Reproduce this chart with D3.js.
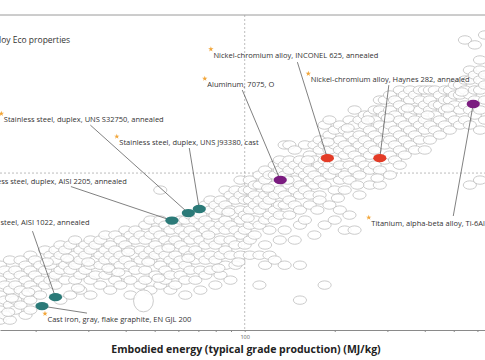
<!DOCTYPE html>
<html><head><meta charset="utf-8">
<script src="https://cdn.jsdelivr.net/npm/d3@7"></script>
<style>
html,body{margin:0;padding:0;background:#fff;overflow:hidden;}
svg{display:block;font-family:"Open Sans",sans-serif;}
</style></head><body>
<svg id="chart" width="485" height="360"></svg>
<script>
const chartTitle = "Alloy Eco properties";
const xAxisTitle = "Embodied energy (typical grade production) (MJ/kg)";
const xTickValues = [20,30,40,50,60,70,80,90,100,200,300,400,500,600];
const xTickLabels = ["100"];
const gridEnergy = [100];
const gridCO2 = [10];

// [embodied energy MJ/kg, CO2 footprint kg/kg]
const otherAlloys = [
[15.2,1.20],[15.2,0.851],[15.2,0.603],[15.2,0.427],[15.2,0.339],
[15.8,1.07],[15.8,0.759],[15.8,0.537],[15.8,0.380],
[16.4,1.35],[16.4,0.955],[16.4,0.676],[16.4,0.479],[16.4,0.339],
[17.1,1.07],[17.1,0.759],[17.1,0.537],[17.1,0.427],
[17.8,1.35],[17.8,0.955],[17.8,0.676],[17.8,0.479],
[18.5,1.20],[18.5,0.851],[18.5,0.603],[18.5,0.380],
[19.2,1.51],[19.2,1.07],[19.2,0.759],[19.2,0.537],[19.2,0.427],
[19.9,1.35],[19.9,0.955],[19.9,0.676],
[20.7,1.20],[20.7,0.851],[20.7,0.603],
[21.5,1.70],[21.5,1.07],[21.5,0.759],
[22.4,1.51],[22.4,1.20],[22.4,0.851],
[23.3,1.70],[23.3,1.35],[23.3,0.955],[23.3,0.759],
[24.2,1.91],[24.2,1.51],[24.2,1.07],[24.2,0.537],
[25.1,1.70],[25.1,1.20],[25.1,0.851],
[26.1,1.91],[26.1,1.35],[26.1,1.07],[26.1,0.603],
[27.1,2.14],[27.1,1.51],[27.1,1.20],[27.1,0.851],
[28.2,1.70],[28.2,1.35],[28.2,0.955],[28.2,0.676],
[29.3,1.91],[29.3,1.51],[29.3,1.07],
[30.5,2.14],[30.5,1.70],[30.5,1.20],[30.5,0.851],[30.5,0.603],
[31.7,1.91],[31.7,1.35],[31.7,0.955],
[32.9,2.14],[32.9,1.51],[32.9,1.20],[32.9,0.759],
[34.2,2.40],[34.2,1.70],[34.2,1.35],[34.2,0.955],
[35.5,1.91],[35.5,1.51],[35.5,1.07],[35.5,0.676],
[36.9,2.40],[36.9,1.70],[36.9,1.35],[36.9,0.851],
[38.4,2.14],[38.4,1.51],[38.4,1.20],[38.4,0.759],
[39.9,2.69],[39.9,1.91],[39.9,1.35],[39.9,0.955],
[41.5,2.40],[41.5,1.70],[41.5,1.20],[41.5,0.851],[41.5,0.603],
[43.1,2.69],[43.1,2.14],[43.1,1.51],[43.1,1.07],
[44.8,2.40],[44.8,1.70],[44.8,1.35],[44.8,0.759],
[46.5,3.02],[46.5,2.14],[46.5,1.51],[46.5,1.07],[46.5,0.851],
[48.4,3.39],[48.4,2.40],[48.4,1.70],[48.4,1.35],[48.4,0.676],
[50.3,2.69],[50.3,1.91],[50.3,1.51],[50.3,0.955],
[52.2,6.76],[52.2,3.39],[52.2,2.40],[52.2,1.70],[52.2,1.20],[52.2,0.759],
[54.3,3.02],[54.3,2.14],[54.3,1.51],[54.3,1.07],[54.3,0.851],
[56.4,2.69],[56.4,1.91],[56.4,1.35],[56.4,0.955],[56.4,0.676],
[58.6,3.02],[58.6,2.14],[58.6,1.51],[58.6,1.20],[58.6,0.759],
[61.0,3.39],[61.0,2.69],[61.0,1.91],[61.0,1.35],[61.0,0.955],
[63.3,3.39],[63.3,2.40],[63.3,1.70],[63.3,1.20],[63.3,0.851],[63.3,0.603],
[65.8,3.80],[65.8,2.69],[65.8,2.14],[65.8,1.51],[65.8,1.07],
[68.4,3.39],[68.4,2.40],[68.4,1.70],[68.4,1.35],[68.4,0.851],
[71.1,3.80],[71.1,3.02],[71.1,2.14],[71.1,1.51],[71.1,1.07],[71.1,0.676],
[73.9,4.79],[73.9,3.39],[73.9,2.69],[73.9,1.91],[73.9,1.35],[73.9,0.955],
[76.8,5.37],[76.8,4.27],[76.8,3.02],[76.8,2.14],[76.8,1.51],[76.8,1.07],
[79.8,4.79],[79.8,3.80],[79.8,2.69],[79.8,1.91],[79.8,1.35],[79.8,0.759],
[83.0,5.37],[83.0,4.27],[83.0,3.02],[83.0,2.14],[83.0,1.51],[83.0,0.955],
[86.2,6.76],[86.2,4.79],[86.2,3.39],[86.2,2.69],[86.2,1.70],[86.2,1.20],
[89.6,6.03],[89.6,4.27],[89.6,3.02],[89.6,2.14],[89.6,1.51],[89.6,0.851],
[93.1,6.76],[93.1,5.37],[93.1,3.80],[93.1,2.69],[93.1,1.91],[93.1,1.20],
[96.8,8.51],[96.8,6.03],[96.8,4.27],[96.8,3.39],[96.8,2.40],[96.8,1.51],
[100,6.76],[100,5.37],[100,3.80],[100,2.69],[100,1.91],
[104,8.51],[104,6.76],[104,5.37],[104,4.27],[104,3.02],[104,2.14],[104,1.51],
[108,7.59],[108,6.03],[108,4.79],[108,3.39],[108,2.40],
[112,9.55],[112,7.59],[112,5.37],[112,4.27],[112,3.02],[112,1.51],[112,0.759],
[117,10.7],[117,8.51],[117,6.03],[117,4.79],[117,3.39],[117,1.91],[117,1.20],
[121,9.55],[121,6.76],[121,5.37],[121,3.80],[121,2.69],[121,1.51],
[126,12.0],[126,9.55],[126,7.59],[126,6.03],[126,4.27],[126,3.39],[126,1.35],
[131,13.5],[131,10.7],[131,6.76],[131,4.79],[131,3.80],[131,2.14],
[136,19.1],[136,12.0],[136,9.55],[136,6.03],[136,4.79],[136,2.69],[136,1.20],
[141,19.1],[141,13.5],[141,10.7],[141,7.59],[141,5.37],[141,3.80],
[147,17.0],[147,12.0],[147,8.51],[147,6.76],[147,4.79],[147,2.14],
[153,13.5],[153,10.7],[153,7.59],[153,6.03],[153,4.27],[153,3.02],[153,1.20],[153,0.537],
[159,19.1],[159,12.0],[159,9.55],[159,6.76],[159,3.39],
[165,15.1],[165,10.7],[165,8.51],[165,6.03],[165,4.79],
[171,19.1],[171,13.5],[171,9.55],[171,7.59],[171,2.40],
[178,21.4],[178,17.0],[178,12.0],[178,8.51],[178,6.03],[178,5.37],
[185,30.2],[185,19.1],[185,13.5],[185,10.7],[185,7.59],[185,3.02],[185,0.759],
[192,33.9],[192,24.0],[192,17.0],[192,12.0],[192,9.55],[192,4.79],
[200,26.9],[200,19.1],[200,13.5],[200,10.7],[200,6.76],[200,3.39],
[208,30.2],[208,21.4],[208,17.0],[208,12.0],[208,8.51],[208,4.27],
[216,26.9],[216,19.1],[216,15.1],[216,9.55],[216,6.76],[216,2.69],
[224,33.9],[224,24.0],[224,17.0],[224,12.0],[224,8.51],[224,3.80],
[233,42.7],[233,30.2],[233,21.4],[233,15.1],[233,10.7],[233,2.69],
[242,33.9],[242,24.0],[242,19.1],[242,13.5],[242,9.55],[242,6.03],
[252,38.0],[252,30.2],[252,21.4],[252,17.0],[252,12.0],
[262,38.0],[262,26.9],[262,19.1],[262,15.1],[262,10.7],[262,7.59],
[272,42.7],[272,33.9],[272,24.0],[272,17.0],[272,12.0],
[283,53.7],[283,42.7],[283,30.2],[283,21.4],[283,10.7],[283,7.59],
[294,53.7],[294,38.0],[294,26.9],[294,19.1],[294,13.5],
[306,60.3],[306,42.7],[306,30.2],[306,21.4],[306,15.1],[306,9.55],
[318,53.7],[318,38.0],[318,26.9],[318,19.1],[318,13.5],
[330,67.6],[330,47.9],[330,33.9],[330,24.0],[330,17.0],[330,12.0],
[343,60.3],[343,42.7],[343,30.2],[343,21.4],[343,15.1],
[357,67.6],[357,53.7],[357,38.0],[357,26.9],[357,19.1],
[371,60.3],[371,42.7],[371,33.9],[371,24.0],[371,17.0],
[385,67.6],[385,53.7],[385,42.7],[385,30.2],[385,21.4],
[400,67.6],[400,47.9],[400,33.9],[400,26.9],[400,17.0],
[416,67.6],[416,53.7],[416,42.7],[416,30.2],[416,21.4],
[432,67.6],[432,47.9],[432,38.0],[432,26.9],
[449,60.3],[449,47.9],[449,33.9],[449,24.0],
[467,67.6],[467,53.7],[467,42.7],[467,30.2],
[485,67.6],[485,53.7],[485,38.0],[485,26.9],
[504,75.9],[504,60.3],[504,47.9],[504,33.9],
[524,75.9],[524,60.3],[524,42.7],[524,30.2],
[545,214],[545,85.1],[545,67.6],[545,47.9],[545,33.9],
[566,107],[566,85.1],[566,60.3],[566,42.7],[566,30.2],[566,7.59],
[588,191],[588,95.5],[588,67.6],[588,53.7],[588,38.0],
[612,135],[612,107],[612,85.1],[612,67.6],[612,42.7],[612,26.9],[612,8.51],
[636,240],[636,95.5],[636,75.9],[636,53.7],[636,33.9],
[16.65,0.562],[18.9,0.646],[21.8,1.29],[25.5,1.41],[30.0,1.29],[35.0,1.12],
[40.8,1.62],[47.6,1.29],[55.6,1.78],[64.8,1.41],[75.6,2.40],[88.2,4.07],
[102.3,3.55],[119.7,7.08],[139,8.51],[162.7,13.5],[189.3,20.4],[221,28.2],
[258,33.9],[301,35.5],[351,44.7],[409,38.0],[478,44.7],[532,64.6],
[205,5.62],[238,7.59],[278,8.91],[175,4.27],[95.3,1.29],[81.7,1.12],
[51.5,0.891],[37.8,1.02],[27.7,0.708],[16.2,0.407]
];

// materials with a wide property range: [energy min, energy max, CO2 min, CO2 max]
const rangeAlloys = [[42.5, 49.5, 0.41, 0.68]];

const highlightNames = [
  "Cast iron, gray, flake graphite, EN GJL 200",
  "Carbon steel, AISI 1022, annealed",
  "Stainless steel, duplex, AISI 2205, annealed",
  "Stainless steel, duplex, UNS S32750, annealed",
  "Stainless steel, duplex, UNS J93380, cast",
  "Aluminum, 7075, O",
  "Nickel-chromium alloy, INCONEL 625, annealed",
  "Nickel-chromium alloy, Haynes 282, annealed",
  "Titanium, alpha-beta alloy, Ti-6Al-4V, annealed"
];
const highlightEnergy = [21.0, 23.3, 57.1, 64.8, 70.5, 131.5, 189, 283, 581];
const highlightCO2 = [0.468, 0.575, 3.35, 3.98, 4.37, 8.51, 14.1, 14.1, 49.0];
const highlightFamily = ["Iron","Steel","Steel","Steel","Steel","Light alloy","Nickel","Nickel","Light alloy"];

// ---------- layout / style ----------
const familyColor = {"Iron":"#2b7a78","Steel":"#2b7a78","Nickel":"#e33b26","Light alloy":"#7b1c80"};
const labelLayout = [
  {dx:5.5, dy:16, anchor:"start", lx:45, ly:7},
  {dx:34, dy:-72, anchor:"end", lx:-23, ly:-66},
  {dx:-45, dy:-36.5, anchor:"end", lx:-101, ly:-34},
  {dx:-184.5, dy:-91, anchor:"start", lx:-98, ly:-88},
  {dx:-80, dy:-64, anchor:"start", lx:-10, ly:-61},
  {dx:-73, dy:-93, anchor:"start", lx:-38, ly:-90},
  {dx:-114, dy:-100.5, anchor:"start", lx:-30, ly:-96},
  {dx:-69, dy:-76, anchor:"start", lx:9, ly:-73},
  {dx:-102, dy:122, anchor:"start", lx:-20, ly:112}
];
const W = 485, H = 360;
const plot = {left:0, right:485, top:15, bottom:330};
const RX = 6.6, RY = 4.2;

const svg = d3.select("#chart");
const x = d3.scaleLog().domain([15.2, 636]).range([plot.left, plot.right]);
const y = d3.scaleLog().domain([0.27, 380]).range([plot.bottom, plot.top]);

svg.append("defs").append("clipPath").attr("id","clip")
  .append("rect").attr("x",plot.left).attr("y",plot.top)
  .attr("width",plot.right-plot.left).attr("height",plot.bottom-plot.top);

// frame top line
svg.append("line").attr("x1",0).attr("x2",W).attr("y1",plot.top).attr("y2",plot.top)
  .attr("stroke","#9a9a9a").attr("stroke-width",1);

// grid
const grid = svg.append("g").attr("stroke","#a0a0a0").attr("stroke-width",0.7).attr("stroke-dasharray","2,2");
grid.selectAll("line.v").data(gridEnergy).join("line").attr("class","v")
  .attr("x1",d=>x(d)).attr("x2",d=>x(d)).attr("y1",plot.top).attr("y2",plot.bottom);
grid.selectAll("line.h").data(gridCO2).join("line").attr("class","h")
  .attr("x1",plot.left).attr("x2",plot.right).attr("y1",d=>y(d)).attr("y2",d=>y(d));

const g = svg.append("g").attr("clip-path","url(#clip)");

// background materials
g.append("g").selectAll("ellipse").data(otherAlloys).join("ellipse")
  .attr("cx",d=>x(d[0])).attr("cy",d=>y(d[1])).attr("rx",RX).attr("ry",RY)
  .attr("fill","#fff").attr("fill-opacity",0.85)
  .attr("stroke","#b9b9b9").attr("stroke-width",0.75);
g.append("g").selectAll("ellipse").data(rangeAlloys).join("ellipse")
  .attr("cx",d=>(x(d[0])+x(d[1]))/2).attr("cy",d=>(y(d[2])+y(d[3]))/2)
  .attr("rx",d=>(x(d[1])-x(d[0]))/2).attr("ry",d=>(y(d[2])-y(d[3]))/2)
  .attr("fill","#fff").attr("fill-opacity",0.85)
  .attr("stroke","#b9b9b9").attr("stroke-width",0.75);

const hl = highlightNames.map((n,i)=>({name:n, e:highlightEnergy[i], c:highlightCO2[i], fam:highlightFamily[i], lay:labelLayout[i]}));

// leader lines
g.append("g").selectAll("line").data(hl).join("line")
  .attr("x1",d=>x(d.e)+d.lay.lx).attr("y1",d=>y(d.c)+d.lay.ly)
  .attr("x2",d=>x(d.e)).attr("y2",d=>y(d.c))
  .attr("stroke","#4a4a4a").attr("stroke-width",0.7);

// highlighted materials
g.append("g").selectAll("ellipse").data(hl).join("ellipse")
  .attr("cx",d=>x(d.e)).attr("cy",d=>y(d.c)).attr("rx",RX).attr("ry",RY)
  .attr("fill",d=>familyColor[d.fam]);

// labels
const lab = g.append("g").selectAll("g").data(hl).join("g");
lab.append("text")
  .attr("x",d=>x(d.e)+d.lay.dx).attr("y",d=>y(d.c)+d.lay.dy)
  .attr("text-anchor",d=>d.lay.anchor)
  .attr("font-size",7.5).attr("fill","#333")
  .text(d=>d.name);
lab.each(function(d){
  const t = d3.select(this).select("text");
  const len = t.node().getComputedTextLength();
  const tx = x(d.e)+d.lay.dx - (d.lay.anchor==="end" ? len : 0);
  const ty = y(d.c)+d.lay.dy;
  d3.select(this).append("path")
    .attr("d", d3.symbol().type(d3.symbolStar).size(9)())
    .attr("transform",`translate(${tx-2.5},${ty-8.5})`)
    .attr("fill","#f2a63a");
});

// x axis
const axis = d3.axisBottom(x).tickValues(xTickValues).tickSize(2).tickSizeOuter(0)
  .tickFormat(d => xTickLabels.includes(String(d)) ? String(d) : "");
const ax = svg.append("g").attr("transform",`translate(0,${plot.bottom})`).call(axis);
ax.select(".domain").attr("stroke","#8a8a8a");
ax.selectAll(".tick line").attr("stroke","#8a8a8a");
ax.selectAll(".tick text").attr("font-size",5.5).attr("fill","#555").attr("font-family","Open Sans, sans-serif");

svg.append("text").attr("x",246).attr("y",353).attr("text-anchor","middle")
  .attr("font-size",10.5).attr("font-weight","bold").attr("fill","#222")
  .text(xAxisTitle);

svg.append("text").attr("x",-8.5).attr("y",43).attr("font-size",8.5).attr("fill","#333")
  .text(chartTitle);
</script>
</body></html>
